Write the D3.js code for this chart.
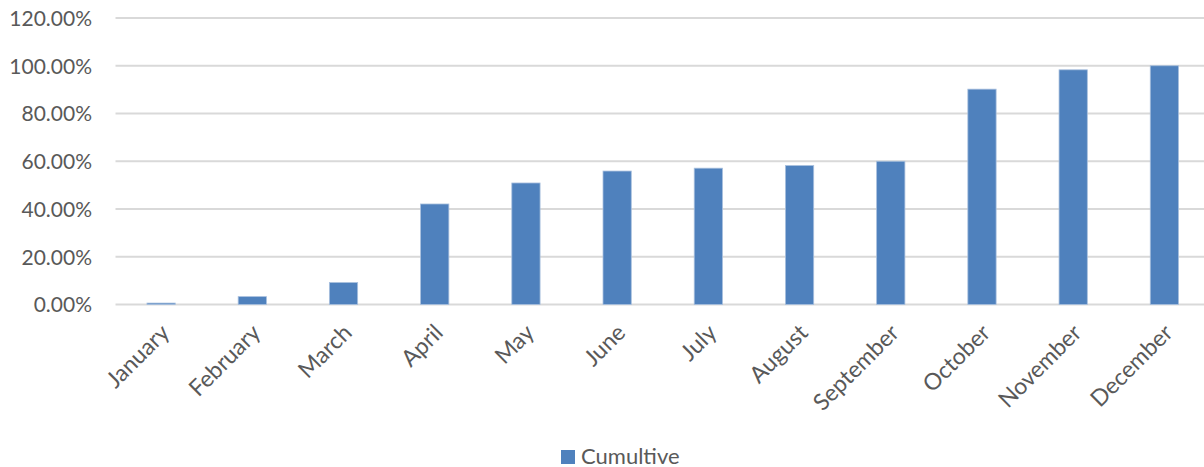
<!DOCTYPE html>
<html>
<head>
<meta charset="utf-8">
<script src="https://cdn.jsdelivr.net/npm/d3@7"></script>
<style>
  html, body { margin: 0; padding: 0; background: #fff; }
  svg { display: block; }
  text { font-family: "Lato", sans-serif; fill: #595959; }
</style>
</head>
<body>
<svg id="chart" width="1204" height="467"></svg>
<script>
const categories = ["January","February","March","April","May","June","July","August","September","October","November","December"];
const cumulative = [0.006, 0.033, 0.092, 0.421, 0.509, 0.559, 0.571, 0.582, 0.600, 0.902, 0.983, 1.000];
const yTicks = [0, 0.2, 0.4, 0.6, 0.8, 1.0, 1.2];
const seriesName = "Cumultive";

const svg = d3.select("#chart");
const W = 1204, H = 467;
const pLeft = 115.5, pRight = 1210, pTop = 18, pBottom = 304.5;
const FONT = '"Lato", sans-serif';

const x = d3.scaleBand().domain(categories).range([pLeft, pRight]).paddingInner(0.69).paddingOuter(0.345);
const y = d3.scaleLinear().domain([0, 1.2]).range([pBottom, pTop]);

// gridlines
svg.append("g").selectAll("line").data(yTicks).join("line")
  .attr("x1", pLeft).attr("x2", W)
  .attr("y1", d => y(d)).attr("y2", d => y(d))
  .attr("stroke", "#d9d9d9").attr("stroke-width", 2);

// y axis labels
const yAxis = d3.axisLeft(y).tickValues(yTicks).tickFormat(d => (d * 100).toFixed(2) + "%").tickSize(0).tickPadding(0);
const yg = svg.append("g").attr("transform", `translate(92,0)`).call(yAxis);
yg.select(".domain").remove();
yg.selectAll("text").attr("font-size", 21).attr("fill", "#595959").attr("dy", "0.35em")
  .style("font-family", FONT);

// bars
svg.append("g").selectAll("rect").data(categories).join("rect")
  .attr("x", d => x(d))
  .attr("width", x.bandwidth())
  .attr("y", (d, i) => y(cumulative[i]))
  .attr("height", (d, i) => y(0) - y(cumulative[i]))
  .attr("fill", "#4f81bd")
  .attr("stroke", "#a9c0de").attr("stroke-width", 0.8);

// x labels
const xAxis = d3.axisBottom(x).tickSize(0).tickPadding(0);
const xg = svg.append("g").attr("transform", `translate(0,${pBottom})`).call(xAxis);
xg.select(".domain").remove();
xg.selectAll("text")
  .attr("font-size", 23).attr("fill", "#595959")
  .style("font-family", FONT)
  .attr("text-anchor", "end")
  .attr("x", 0).attr("y", 0).attr("dy", "0.35em")
  .attr("transform", "translate(4,24) rotate(-45)");

// legend
const lg = svg.append("g");
lg.append("rect").attr("x", 561).attr("y", 450).attr("width", 14).attr("height", 14).attr("fill", "#4f81bd");
lg.append("text").attr("x", 581).attr("y", 463.5).attr("font-size", 22).style("font-family", FONT).text(seriesName);
</script>
</body>
</html>
